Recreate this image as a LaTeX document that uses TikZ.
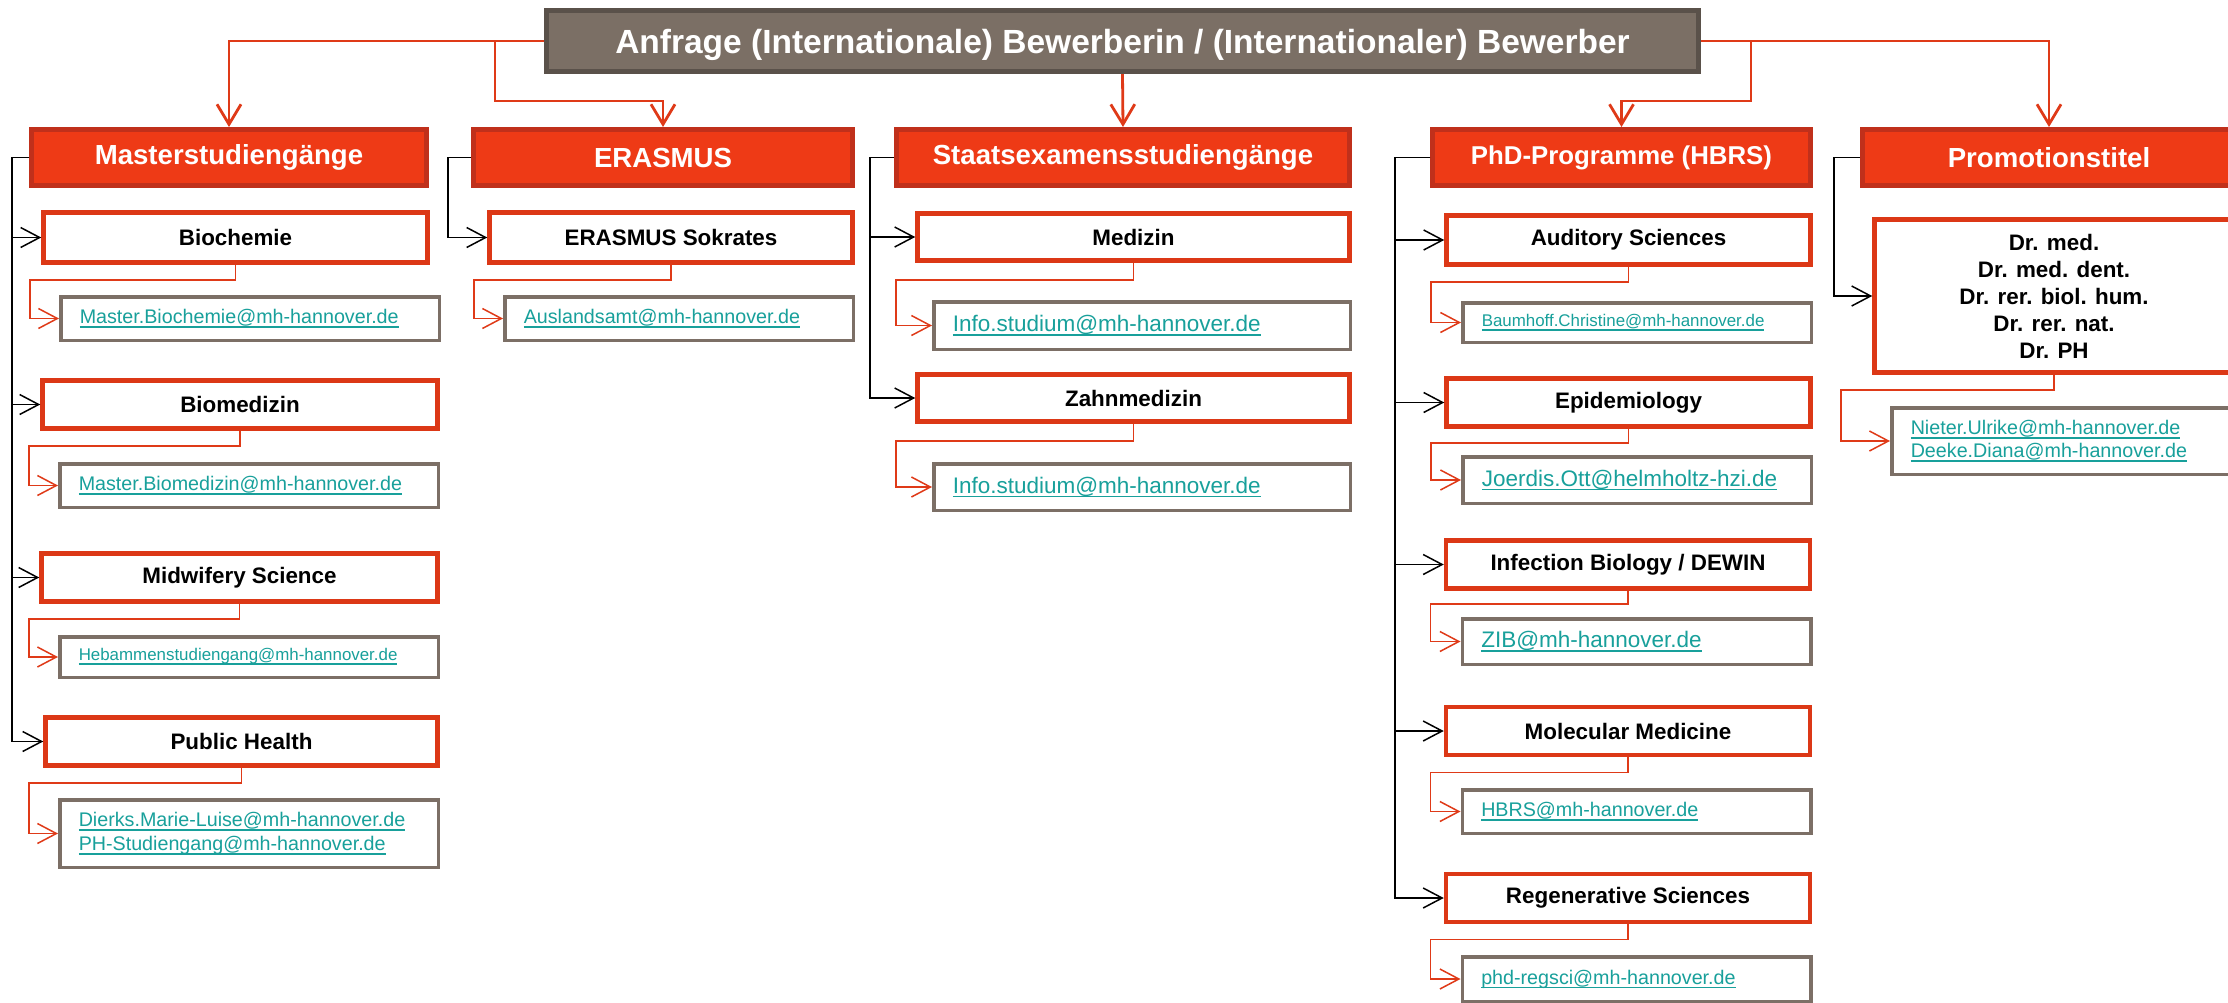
\documentclass[tikz,border=0pt]{standalone}
\usepackage{fontspec}
\setmainfont{Liberation Sans}
\usetikzlibrary{arrows.meta}
\definecolor{headgray}{HTML}{7B6F65}
\definecolor{headborder}{HTML}{5A514A}
\definecolor{groupred}{HTML}{EE3A16}
\definecolor{groupborder}{HTML}{C0301B}
\definecolor{coursered}{HTML}{DC3816}
\definecolor{mailgray}{HTML}{7C6F66}
\definecolor{mailteal}{HTML}{18A09B}
\definecolor{linered}{HTML}{DF3A18}
\newsavebox{\mailbox}
\newcommand{\maillink}[1]{\leavevmode\sbox{\mailbox}{#1}%
    \rlap{\vrule width \wd\mailbox height -2.5pt depth 4.3pt}\usebox{\mailbox}}
\tikzset{%
    headbox/.style = {draw=headborder, line width=5pt, fill=headgray, text=white, inner sep=0pt,
        font=\bfseries\fontsize{33.5}{40}\selectfont, minimum width=1152pt, minimum height=61pt,
        text depth=0pt},
    group/.style = {draw=groupborder, line width=5pt, fill=groupred, text=white, inner sep=0pt,
        font=\bfseries\fontsize{27.6}{33}\selectfont, minimum height=56pt},
    course/.style = {draw=coursered, line width=4.5pt, fill=white, align=center, inner sep=0pt,
        font=\bfseries\fontsize{22.4}{27}\selectfont, minimum height=48pt},
    mail/.style = {draw=mailgray, line width=3.5pt, fill=white, align=left, text=mailteal,
        inner xsep=19pt, inner ysep=0pt, font=\fontsize{19.7}{23.5}\selectfont},
    smallmail/.style = {font=\fontsize{16.9}{20}\selectfont},
    bigmail/.style = {font=\fontsize{22.5}{27}\selectfont},
    trunk/.style = {draw=linered, line width=2.8pt, -{Straight Barb[length=20pt,width=24pt]}},
    tree/.style = {draw=black, line width=1.5pt, -{Straight Barb[length=19pt,width=20pt]}},
    feed/.style = {draw=linered, line width=1.5pt, -{Straight Barb[length=19pt,width=20pt]}},
}

\begin{document}
\begin{tikzpicture}[x=1pt, y=-1pt]
    \useasboundingbox (0,0) rectangle (2228,1002);
    % request and the five groups
    \draw
        node at (1122.5,41) [headbox] (anfrage)
            {Anfrage (Internationale) Bewerberin / (Internationaler) Bewerber}
        node at (229,157.5) [group, minimum width=395pt] (master) {Masterstudiengänge}
        node at (663,157.5) [group, minimum width=379pt] (erasmus) {ERASMUS}
        node at (1123,157.5) [group, minimum width=453pt] (staats) {Staatsexamensstudiengänge}
        node at (1621.5,157.5) [group, minimum width=378pt,
            font=\bfseries\fontsize{25.8}{31}\selectfont] (phd) {PhD-Programme (HBRS)}
        node at (2049,157.5) [group, minimum width=373pt] (promo) {Promotionstitel};

    % courses
    \draw
        node at (235.5,237.5) [course, minimum width=384pt, minimum height=50pt] (biochem) {Biochemie}
        node at (240,404.5) [course, minimum width=395pt] (biomed) {Biomedizin}
        node at (239.5,577.5) [course, minimum width=396pt] (midwife) {Midwifery Science}
        node at (241.5,741.5) [course, minimum width=392pt] (pubhealth) {Public Health}
        node at (671,237.5) [course, minimum width=363pt, minimum height=50pt] (sokrates) {ERASMUS Sokrates}
        node at (1133.5,237) [course, minimum width=432pt, minimum height=47pt] (medizin) {Medizin}
        node at (1133.5,398) [course, minimum width=432pt, minimum height=47pt] (zahnmed) {Zahnmedizin}
        node at (1628.5,240) [course, minimum width=364pt, minimum height=49pt] (auditory) {Auditory Sciences}
        node at (1628.5,402.5) [course, minimum width=364pt] (epidem) {Epidemiology}
        node at (1628,564.5) [course, minimum width=364pt] (infect) {Infection Biology / DEWIN}
        node at (1628,731) [course, minimum width=364pt] (molmed) {Molecular Medicine}
        node at (1628,898) [course, minimum width=364pt] (regsci) {Regenerative Sciences}
        node at (2054,296) [course, minimum width=359pt, minimum height=153pt] (titel)
            {Dr. med.\\Dr. med. dent.\\Dr. rer. biol. hum.\\Dr. rer. nat.\\Dr. PH};

    % contact addresses
    \draw
        node at (250,318.5) [mail, text width=340.5pt, minimum height=43.5pt] (biochem_mail)
            {\maillink{Master.Biochemie@mh-hannover.de}}
        node at (249,485.5) [mail, text width=340.5pt, minimum height=43.5pt] (biomed_mail)
            {\maillink{Master.Biomedizin@mh-hannover.de}}
        node at (249,657) [mail, smallmail, text width=340.5pt, minimum height=40.5pt] (midwife_mail)
            {\maillink{Hebammenstudiengang@mh-hannover.de}}
        node at (249,833.5) [mail, text width=340.5pt, minimum height=67.5pt] (pubhealth_mail)
            {\maillink{Dierks.Marie-Luise@mh-hannover.de}\\\maillink{PH-Studiengang@mh-hannover.de}}
        node at (679,318.5) [mail, text width=310.5pt, minimum height=43.5pt] (sokrates_mail)
            {\maillink{Auslandsamt@mh-hannover.de}}
        node at (1142,325.5) [mail, bigmail, text width=378.5pt, minimum height=47.5pt] (medizin_mail)
            {\maillink{Info.studium@mh-hannover.de}}
        node at (1142,487) [mail, bigmail, text width=378.5pt, minimum height=46.5pt] (zahnmed_mail)
            {\maillink{Info.studium@mh-hannover.de}}
        node at (1637,322.5) [mail, smallmail, text width=310.5pt, minimum height=39.5pt] (auditory_mail)
            {\maillink{Baumhoff.Christine@mh-hannover.de}}
        node at (1637,480) [mail, bigmail, text width=310.5pt, minimum height=46.5pt] (epidem_mail)
            {\maillink{Joerdis.Ott@helmholtz-hzi.de}}
        node at (1636.5,641.5) [mail, bigmail, text width=310.5pt, minimum height=45.5pt] (infect_mail)
            {\maillink{ZIB@mh-hannover.de}}
        node at (1636.5,811.5) [mail, text width=310.5pt, minimum height=43.5pt] (molmed_mail)
            {\maillink{HBRS@mh-hannover.de}}
        node at (1636.5,979) [mail, text width=310.5pt, minimum height=44.5pt] (regsci_mail)
            {\maillink{phd-regsci@mh-hannover.de}}
        node at (2065,441) [mail, text width=308.5pt, minimum height=66.5pt] (titel_mail)
            {\maillink{Nieter.Ulrike@mh-hannover.de}\\\maillink{Deeke.Diana@mh-hannover.de}};

    % request -> groups
    \coordinate (erasmus_knee) at (495,101);
    \coordinate (phd_knee) at (1751,101);
    \draw[trunk] (anfrage.west) -| (master.north);
    \draw[trunk] (anfrage.west -| erasmus_knee) -- (erasmus_knee) -| (erasmus.north);
    \draw[trunk] (anfrage.south) -- (staats.north);
    \draw[trunk] (anfrage.east -| phd_knee) -- (phd_knee) -| (phd.north);
    \draw[trunk] (anfrage.east) -| (promo.north);

    % groups -> courses
    \draw[tree] (master.west) -- ++(-17,0) |- (biochem.west);
    \draw[tree] (master.west) -- ++(-17,0) |- (biomed.west);
    \draw[tree] (master.west) -- ++(-17,0) |- (midwife.west);
    \draw[tree] (master.west) -- ++(-17,0) |- (pubhealth.west);
    \draw[tree] (erasmus.west) -- ++(-23,0) |- (sokrates.west);
    \draw[tree] (staats.west) -- ++(-24,0) |- (medizin.west);
    \draw[tree] (staats.west) -- ++(-24,0) |- (zahnmed.west);
    \draw[tree] (phd.west) -- ++(-35,0) |- (auditory.west);
    \draw[tree] (phd.west) -- ++(-35,0) |- (epidem.west);
    \draw[tree] (phd.west) -- ++(-35,0) |- (infect.west);
    \draw[tree] (phd.west) -- ++(-35,0) |- (molmed.west);
    \draw[tree] (phd.west) -- ++(-35,0) |- (regsci.west);
    \draw[tree] (promo.west) -- ++(-26,0) |- (titel.west);

    % courses -> addresses
    \draw[feed] (biochem.south) -- ++(0,15) -| ([xshift=-29pt]biochem_mail.west) -- (biochem_mail.west);
    \draw[feed] (biomed.south) -- ++(0,15) -| ([xshift=-29pt]biomed_mail.west) -- (biomed_mail.west);
    \draw[feed] (midwife.south) -- ++(0,15) -| ([xshift=-29pt]midwife_mail.west) -- (midwife_mail.west);
    \draw[feed] (pubhealth.south) -- ++(0,15) -| ([xshift=-29pt]pubhealth_mail.west) -- (pubhealth_mail.west);
    \draw[feed] (sokrates.south) -- ++(0,15) -| ([xshift=-29pt]sokrates_mail.west) -- (sokrates_mail.west);
    \draw[feed] (medizin.south) -- ++(0,17) -| ([xshift=-36pt]medizin_mail.west) -- (medizin_mail.west);
    \draw[feed] (zahnmed.south) -- ++(0,17) -| ([xshift=-36pt]zahnmed_mail.west) -- (zahnmed_mail.west);
    \draw[feed] (auditory.south) -- ++(0,15) -| ([xshift=-30pt]auditory_mail.west) -- (auditory_mail.west);
    \draw[feed] (epidem.south) -- ++(0,14) -| ([xshift=-30pt]epidem_mail.west) -- (epidem_mail.west);
    \draw[feed] (infect.south) -- ++(0,13) -| ([xshift=-30pt]infect_mail.west) -- (infect_mail.west);
    \draw[feed] (molmed.south) -- ++(0,15) -| ([xshift=-30pt]molmed_mail.west) -- (molmed_mail.west);
    \draw[feed] (regsci.south) -- ++(0,15) -| ([xshift=-30pt]regsci_mail.west) -- (regsci_mail.west);
    \draw[feed] (titel.south) -- ++(0,15) -| ([xshift=-49pt]titel_mail.west) -- (titel_mail.west);
\end{tikzpicture}
\end{document}
